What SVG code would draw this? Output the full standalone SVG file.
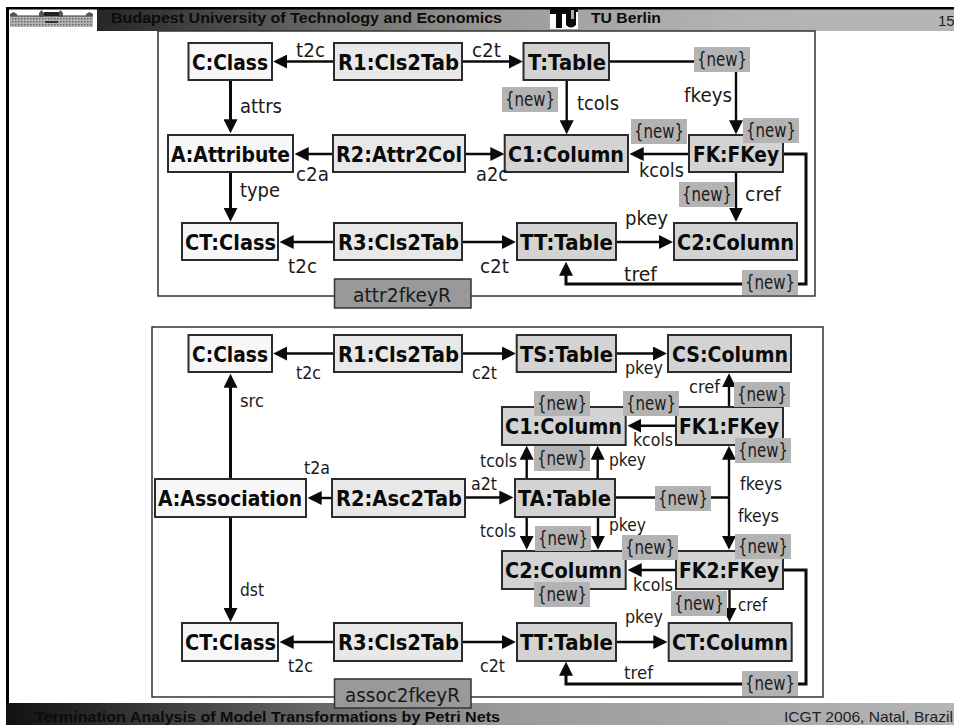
<svg xmlns="http://www.w3.org/2000/svg" width="954" height="725" viewBox="0 0 954 725">
<style>
.n{stroke:#2b2b2b;stroke-width:2}
.c{fill:#f7f7f7}.r{fill:#e8e8e8}.t{fill:#d3d3d3}
.nt{font-family:"DejaVu Sans",sans-serif;font-weight:bold;font-size:21px;fill:#0a0a0a}
.l{font-family:"DejaVu Sans",sans-serif;font-size:20px;fill:#1a1a1a}
.s{font-family:"DejaVu Sans",sans-serif;font-size:18px;fill:#1a1a1a}
.nb{fill:#b3b3b3}
.fr{fill:none;stroke:#333;stroke-width:1.5}
.tag{fill:#999;stroke:#333;stroke-width:1.5}
.e{fill:none;stroke:#0a0a0a;stroke-width:2.400;marker-end:url(#a)}
.p{fill:none;stroke:#0a0a0a;stroke-width:2.400}
.h{stroke-width:3}
.hd{font-family:"Liberation Sans",Arial,sans-serif;font-size:15.500px;font-weight:bold;fill:#0c0c0c}
.ft{font-family:"Liberation Sans",Arial,sans-serif;font-size:15px;fill:#222}
</style>
<defs>
<marker id="a" markerUnits="userSpaceOnUse" markerWidth="14" markerHeight="14" viewBox="0 0 13 13" refX="9" refY="6.5" orient="auto"><path d="M0 0L13 6.5L0 13z" fill="#0a0a0a"/></marker>
<linearGradient id="g1" x1="0" x2="1" y1="0" y2="0"><stop offset="0" stop-color="#262626"/><stop offset=".47" stop-color="#9c9c9c"/><stop offset=".75" stop-color="#b3b3b3"/><stop offset="1" stop-color="#b5b5b5"/></linearGradient>
<linearGradient id="g2" x1="0" x2="1" y1="0" y2="0"><stop offset="0" stop-color="#111"/><stop offset=".52" stop-color="#9a9a9a"/><stop offset="1" stop-color="#b5b5b5"/></linearGradient>
<pattern id="win" patternUnits="userSpaceOnUse" width="3" height="3"><rect width="3" height="3" fill="#b5b5b5"/><rect width="1.500" height="1.500" fill="#666"/></pattern>
</defs>
<rect width="954" height="725" fill="#fff"/>
<g id="header">
<rect x="97" y="9" width="857" height="22" fill="url(#g1)"/>
<rect x="6" y="7" width="948" height="2.500" fill="#000"/>
<rect x="6" y="7" width="3" height="718" fill="#000"/>
<g id="bme-logo">
<rect x="10" y="17" width="83" height="10" fill="url(#win)"/>
<rect x="10" y="15.500" width="83" height="1.200" fill="#333"/>
<path d="M10 16V14L13.500 12L17 14V16zM86 16V14L89.500 12L93 14V16zM39 17V13L41.500 10L44 13V17zM58 17V13L60.500 10L63 13V17z" fill="#555"/>
<rect x="44" y="12" width="15" height="4" fill="#222"/>
<rect x="45" y="21" width="13" height="2" fill="#333"/>
</g>
<g id="tu-logo">
<rect x="550" y="9" width="28" height="20" fill="#fff"/>
<path d="M550 9H578V12H576V25Q571 30 566 25V14H562V28H556V14H550z" fill="#0a0a0a"/>
<rect x="571" y="10" width="3" height="9" fill="#aaa"/>
</g>
<text class="hd" x="111" y="23" textLength="391" lengthAdjust="spacingAndGlyphs">Budapest University of Technology and Economics</text>
<text class="hd" x="591" y="23" textLength="70" lengthAdjust="spacingAndGlyphs">TU Berlin</text>
<text class="ft" x="938" y="26" font-size="14">15</text>
</g>
<g id="footer">
<rect x="6" y="703" width="948" height="22" fill="url(#g2)"/>
<text class="hd" x="35" y="722" textLength="465" lengthAdjust="spacingAndGlyphs">Termination Analysis of Model Transformations by Petri Nets</text>
<text class="ft" x="784" y="722" textLength="169" lengthAdjust="spacingAndGlyphs">ICGT 2006, Natal, Brazil</text>
</g>
<rect id="frame1" class="fr" x="158" y="31" width="657" height="265"/>
<rect id="frame2" class="fr" x="152" y="327" width="671" height="370"/>
<g id="connectors">
<path class="e" d="M333 61.500H277.500"/>
<path class="e" d="M463 61.500H518.500"/>
<path class="e h" d="M230.500 81V129"/>
<path class="e h" d="M230.500 173V217.500"/>
<path class="e" d="M332 154H299"/>
<path class="e" d="M466 154H500"/>
<path class="e" d="M333 242H284"/>
<path class="e" d="M463 242H511.500"/>
<path class="e" d="M610 61.500H736V130"/>
<path class="e" d="M566.700 81V130"/>
<path class="e" d="M689 154H634"/>
<path class="e" d="M736 173V217.500"/>
<path class="e" d="M617 242H668.700"/>
<path class="e h" d="M784 154H806V284H566V266"/>
<path class="e" d="M333 353.500H277.500"/>
<path class="e" d="M463 353.500H511.500"/>
<path class="e" d="M617 353.500H662.700"/>
<path class="e" d="M729 407V377.500"/>
<path class="e" d="M676 425.700H631.700"/>
<path class="e" d="M526.700 479V450"/>
<path class="e" d="M597.700 479V450"/>
<path class="p" d="M616 497.500H729"/>
<path class="e" d="M729 497.500V450"/>
<path class="e" d="M729 497.500V545.500"/>
<path class="e" d="M526.700 518V545.500"/>
<path class="e" d="M598 518V545.500"/>
<path class="e" d="M676 570H632"/>
<path class="e" d="M729.500 590V617.700"/>
<path class="e" d="M617 642H663"/>
<path class="e" d="M463 642H511.500"/>
<path class="e" d="M333 642H284"/>
<path class="e h" d="M784 570H806V684H566V666"/>
<path class="e" d="M332 498H312"/>
<path class="e" d="M466 497.500H509"/>
<path class="e h" d="M230.500 479V378"/>
<path class="e h" d="M230.500 518V617.700"/>
</g>
<g id="n1-c"><rect class="n c" x="188.500" y="43" width="83.500" height="37"/><text class="nt" x="192" y="70" textLength="76" lengthAdjust="spacingAndGlyphs">C:Class</text></g>
<g id="n1-r1"><rect class="n r" x="334" y="43" width="128" height="37"/><text class="nt" x="338" y="70" textLength="121" lengthAdjust="spacingAndGlyphs">R1:Cls2Tab</text></g>
<g id="n1-t"><rect class="n t" x="523.500" y="43" width="85.500" height="37"/><text class="nt" x="528" y="70" textLength="78" lengthAdjust="spacingAndGlyphs">T:Table</text></g>
<g id="n1-a"><rect class="n c" x="168" y="135" width="125" height="37"/><text class="nt" x="171" y="162" textLength="119" lengthAdjust="spacingAndGlyphs">A:Attribute</text></g>
<g id="n1-r2"><rect class="n r" x="333" y="135" width="132" height="37"/><text class="nt" x="336" y="162" textLength="126" lengthAdjust="spacingAndGlyphs">R2:Attr2Col</text></g>
<g id="n1-c1"><rect class="n t" x="504.700" y="135" width="123.300" height="37"/><text class="nt" x="508" y="162" textLength="116" lengthAdjust="spacingAndGlyphs">C1:Column</text></g>
<g id="n1-fk"><rect class="n t" x="689" y="135" width="94" height="37"/><text class="nt" x="693" y="162" textLength="86" lengthAdjust="spacingAndGlyphs">FK:FKey</text></g>
<g id="n1-ct"><rect class="n c" x="182" y="223" width="96" height="37"/><text class="nt" x="185" y="250" textLength="91" lengthAdjust="spacingAndGlyphs">CT:Class</text></g>
<g id="n1-r3"><rect class="n r" x="334" y="223" width="128" height="37"/><text class="nt" x="338" y="250" textLength="121" lengthAdjust="spacingAndGlyphs">R3:Cls2Tab</text></g>
<g id="n1-tt"><rect class="n t" x="517" y="223" width="99" height="37"/><text class="nt" x="520" y="250" textLength="93" lengthAdjust="spacingAndGlyphs">TT:Table</text></g>
<g id="n1-c2"><rect class="n t" x="674" y="223" width="123" height="37"/><text class="nt" x="677" y="250" textLength="117" lengthAdjust="spacingAndGlyphs">C2:Column</text></g>
<g id="n2-c"><rect class="n c" x="188.500" y="335" width="83.500" height="37"/><text class="nt" x="192" y="362" textLength="76" lengthAdjust="spacingAndGlyphs">C:Class</text></g>
<g id="n2-r1"><rect class="n r" x="334" y="335" width="128" height="37"/><text class="nt" x="338" y="362" textLength="121" lengthAdjust="spacingAndGlyphs">R1:Cls2Tab</text></g>
<g id="n2-ts"><rect class="n t" x="516.700" y="335" width="99.300" height="37"/><text class="nt" x="520" y="362" textLength="93" lengthAdjust="spacingAndGlyphs">TS:Table</text></g>
<g id="n2-cs"><rect class="n t" x="668" y="335" width="123" height="37"/><text class="nt" x="672" y="362" textLength="116" lengthAdjust="spacingAndGlyphs">CS:Column</text></g>
<g id="n2-c1"><rect class="n t" x="502" y="407" width="123.700" height="38"/><text class="nt" x="505" y="434" textLength="117" lengthAdjust="spacingAndGlyphs">C1:Column</text></g>
<g id="n2-fk1"><rect class="n t" x="676" y="407" width="107" height="38"/><text class="nt" x="679" y="434" textLength="100" lengthAdjust="spacingAndGlyphs">FK1:FKey</text></g>
<g id="n2-a"><rect class="n c" x="155" y="479" width="151" height="38"/><text class="nt" x="158" y="506" textLength="144" lengthAdjust="spacingAndGlyphs">A:Association</text></g>
<g id="n2-r2"><rect class="n r" x="332" y="479" width="133" height="38"/><text class="nt" x="336" y="506" textLength="126" lengthAdjust="spacingAndGlyphs">R2:Asc2Tab</text></g>
<g id="n2-ta"><rect class="n t" x="515" y="479" width="100" height="38"/><text class="nt" x="518" y="506" textLength="93" lengthAdjust="spacingAndGlyphs">TA:Table</text></g>
<g id="n2-c2"><rect class="n t" x="502" y="551" width="123.700" height="38"/><text class="nt" x="505" y="578" textLength="117" lengthAdjust="spacingAndGlyphs">C2:Column</text></g>
<g id="n2-fk2"><rect class="n t" x="676" y="551" width="107" height="38"/><text class="nt" x="679" y="578" textLength="100" lengthAdjust="spacingAndGlyphs">FK2:FKey</text></g>
<g id="n2-ct"><rect class="n c" x="182" y="623" width="96" height="38"/><text class="nt" x="185" y="650" textLength="91" lengthAdjust="spacingAndGlyphs">CT:Class</text></g>
<g id="n2-r3"><rect class="n r" x="334" y="623" width="128" height="38"/><text class="nt" x="338" y="650" textLength="121" lengthAdjust="spacingAndGlyphs">R3:Cls2Tab</text></g>
<g id="n2-tt"><rect class="n t" x="517" y="623" width="99" height="38"/><text class="nt" x="520" y="650" textLength="93" lengthAdjust="spacingAndGlyphs">TT:Table</text></g>
<g id="n2-ctc"><rect class="n t" x="668.700" y="623" width="123" height="38"/><text class="nt" x="672" y="650" textLength="116" lengthAdjust="spacingAndGlyphs">CT:Column</text></g>
<g id="edge-labels">
<g class="l">
<text x="296" y="57" textLength="29" lengthAdjust="spacingAndGlyphs">t2c</text>
<text x="472" y="57" textLength="29" lengthAdjust="spacingAndGlyphs">c2t</text>
<text x="240" y="113" textLength="42" lengthAdjust="spacingAndGlyphs">attrs</text>
<text x="296" y="181" textLength="33" lengthAdjust="spacingAndGlyphs">c2a</text>
<text x="476" y="181" textLength="32" lengthAdjust="spacingAndGlyphs">a2c</text>
<text x="240" y="197" textLength="40" lengthAdjust="spacingAndGlyphs">type</text>
<text x="288" y="273" textLength="29" lengthAdjust="spacingAndGlyphs">t2c</text>
<text x="480" y="273" textLength="29" lengthAdjust="spacingAndGlyphs">c2t</text>
<text x="577" y="110" textLength="42" lengthAdjust="spacingAndGlyphs">tcols</text>
<text x="684" y="102" textLength="48" lengthAdjust="spacingAndGlyphs">fkeys</text>
<text x="639" y="177" textLength="45" lengthAdjust="spacingAndGlyphs">kcols</text>
<text x="745" y="201" textLength="36" lengthAdjust="spacingAndGlyphs">cref</text>
<text x="625" y="225" textLength="43" lengthAdjust="spacingAndGlyphs">pkey</text>
<text x="624" y="281" textLength="33" lengthAdjust="spacingAndGlyphs">tref</text>
</g>
<g class="s">
<text x="296" y="379" textLength="25" lengthAdjust="spacingAndGlyphs">t2c</text>
<text x="472" y="379" textLength="25" lengthAdjust="spacingAndGlyphs">c2t</text>
<text x="625" y="374" textLength="38" lengthAdjust="spacingAndGlyphs">pkey</text>
<text x="240" y="407" textLength="24" lengthAdjust="spacingAndGlyphs">src</text>
<text x="689" y="393" textLength="31" lengthAdjust="spacingAndGlyphs">cref</text>
<text x="480" y="467" textLength="37" lengthAdjust="spacingAndGlyphs">tcols</text>
<text x="609" y="466" textLength="37" lengthAdjust="spacingAndGlyphs">pkey</text>
<text x="633" y="446" textLength="40" lengthAdjust="spacingAndGlyphs">kcols</text>
<text x="304" y="474" textLength="26" lengthAdjust="spacingAndGlyphs">t2a</text>
<text x="471" y="490" textLength="26" lengthAdjust="spacingAndGlyphs">a2t</text>
<text x="740" y="490" textLength="42" lengthAdjust="spacingAndGlyphs">fkeys</text>
<text x="738" y="522" textLength="41" lengthAdjust="spacingAndGlyphs">fkeys</text>
<text x="480" y="537" textLength="36" lengthAdjust="spacingAndGlyphs">tcols</text>
<text x="609" y="531" textLength="37" lengthAdjust="spacingAndGlyphs">pkey</text>
<text x="633" y="591" textLength="40" lengthAdjust="spacingAndGlyphs">kcols</text>
<text x="738" y="611" textLength="29" lengthAdjust="spacingAndGlyphs">cref</text>
<text x="625" y="623" textLength="38" lengthAdjust="spacingAndGlyphs">pkey</text>
<text x="624" y="679" textLength="29" lengthAdjust="spacingAndGlyphs">tref</text>
<text x="240" y="596" textLength="24" lengthAdjust="spacingAndGlyphs">dst</text>
<text x="288" y="672" textLength="25" lengthAdjust="spacingAndGlyphs">t2c</text>
<text x="480" y="672" textLength="25" lengthAdjust="spacingAndGlyphs">c2t</text>
</g>
</g>
<g id="new-labels">
<rect class="nb" x="694" y="47" width="56" height="25"/><text class="l" x="697" y="66" textLength="50" lengthAdjust="spacingAndGlyphs">{new}</text>
<rect class="nb" x="502" y="87" width="56" height="25"/><text class="l" x="505" y="106" textLength="50" lengthAdjust="spacingAndGlyphs">{new}</text>
<rect class="nb" x="631" y="119" width="56" height="25"/><text class="l" x="634" y="138" textLength="50" lengthAdjust="spacingAndGlyphs">{new}</text>
<rect class="nb" x="743" y="118" width="56" height="25"/><text class="l" x="746" y="137" textLength="50" lengthAdjust="spacingAndGlyphs">{new}</text>
<rect class="nb" x="679" y="182" width="56" height="25"/><text class="l" x="682" y="201" textLength="50" lengthAdjust="spacingAndGlyphs">{new}</text>
<rect class="nb" x="742" y="270" width="56" height="25"/><text class="l" x="745" y="289" textLength="50" lengthAdjust="spacingAndGlyphs">{new}</text>
<rect class="nb" x="534" y="391" width="56" height="25"/><text class="l" x="537" y="410" textLength="50" lengthAdjust="spacingAndGlyphs">{new}</text>
<rect class="nb" x="623" y="391" width="56" height="25"/><text class="l" x="626" y="410" textLength="50" lengthAdjust="spacingAndGlyphs">{new}</text>
<rect class="nb" x="734" y="382" width="56" height="25"/><text class="l" x="737" y="401" textLength="50" lengthAdjust="spacingAndGlyphs">{new}</text>
<rect class="nb" x="735" y="438" width="56" height="25"/><text class="l" x="738" y="457" textLength="50" lengthAdjust="spacingAndGlyphs">{new}</text>
<rect class="nb" x="534" y="446" width="56" height="25"/><text class="l" x="537" y="465" textLength="50" lengthAdjust="spacingAndGlyphs">{new}</text>
<rect class="nb" x="655" y="486" width="56" height="25"/><text class="l" x="658" y="505" textLength="50" lengthAdjust="spacingAndGlyphs">{new}</text>
<rect class="nb" x="535" y="526" width="56" height="25"/><text class="l" x="538" y="545" textLength="50" lengthAdjust="spacingAndGlyphs">{new}</text>
<rect class="nb" x="622" y="535" width="56" height="25"/><text class="l" x="625" y="554" textLength="50" lengthAdjust="spacingAndGlyphs">{new}</text>
<rect class="nb" x="735" y="534" width="56" height="25"/><text class="l" x="738" y="553" textLength="50" lengthAdjust="spacingAndGlyphs">{new}</text>
<rect class="nb" x="534" y="582" width="56" height="25"/><text class="l" x="537" y="601" textLength="50" lengthAdjust="spacingAndGlyphs">{new}</text>
<rect class="nb" x="671" y="591" width="56" height="25"/><text class="l" x="674" y="610" textLength="50" lengthAdjust="spacingAndGlyphs">{new}</text>
<rect class="nb" x="742" y="671" width="56" height="25"/><text class="l" x="745" y="690" textLength="50" lengthAdjust="spacingAndGlyphs">{new}</text>
</g>
<g id="tag1"><rect class="tag" x="334.500" y="279" width="136.500" height="29"/><text class="l" x="353" y="302" textLength="98" lengthAdjust="spacingAndGlyphs">attr2fkeyR</text></g>
<g id="tag2"><rect class="tag" x="334.500" y="679" width="136.500" height="29"/><text class="l" x="345" y="702" textLength="115" lengthAdjust="spacingAndGlyphs">assoc2fkeyR</text></g>
</svg>
